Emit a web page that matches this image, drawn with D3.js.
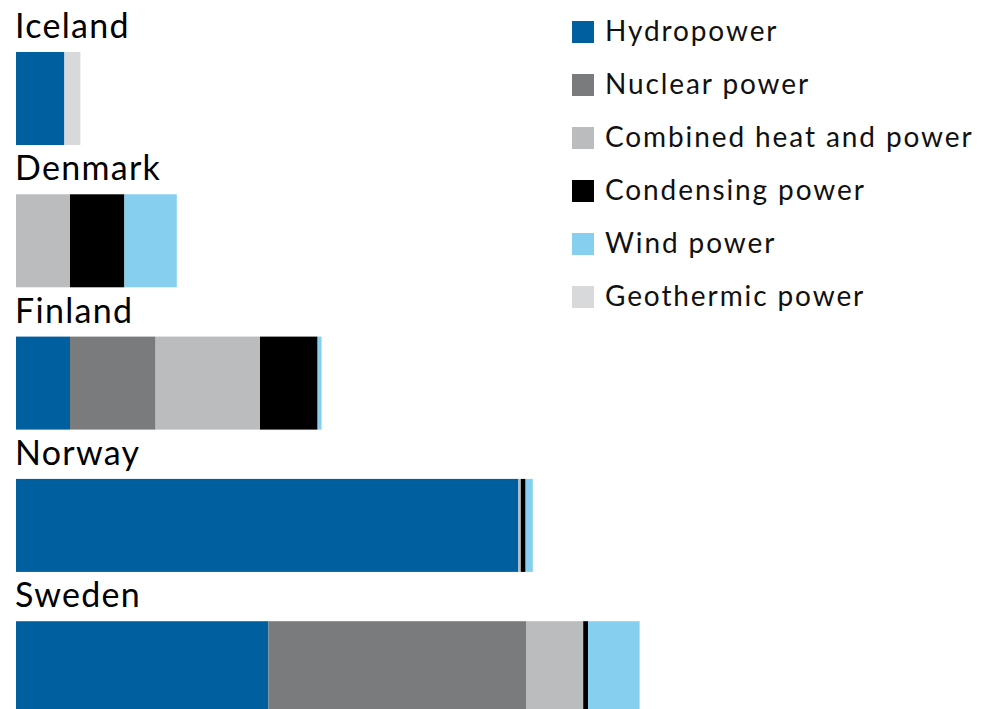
<!DOCTYPE html>
<html>
<head>
<meta charset="UTF-8">
<script src="https://cdn.jsdelivr.net/npm/d3@7"></script>
<style>
body{
    margin:0;
    background-color:#fff;
    font-family:"Lato", "Noto Sans", sans-serif;
}
</style>
</head>
<body>
<script>

// electricity generation by source (approx. TWh)
var countries = ["Iceland","Denmark","Finland","Norway","Sweden"];
var sources = ["Hydropower","Nuclear power","Combined heat and power","Condensing power","Wind power","Geothermic power"];
var colors = ["#005f9e","#7a7b7d","#bbbcbe","#000000","#87cfee","#d8d9db"];

var hydro      = [12.1, 0,    13.5, 125.6, 63.1];
var nuclear    = [0,    0,    21.4, 0,     64.4];
var chp        = [0,    13.5, 26.1, 0.6,   14.3];
var condensing = [0,    13.6, 14.4, 1.2,   1.2];
var wind       = [0,    13.1, 1.0,  1.8,   12.9];
var geothermic = [4.0,  0,    0,    0,     0];

var width = 982, height = 709;

var data = countries.map(function(c,i){
    return {country:c, "Hydropower":hydro[i], "Nuclear power":nuclear[i],
        "Combined heat and power":chp[i], "Condensing power":condensing[i],
        "Wind power":wind[i], "Geothermic power":geothermic[i]};
});

var stack = d3.stack().keys(sources);
var series = stack(data);

var x = d3.scaleLinear().domain([0,240]).range([16,976]);
var y = d3.scaleBand().domain(countries).range([52,714.2]).paddingInner(0.3465).paddingOuter(0);
var color = d3.scaleOrdinal().domain(sources).range(colors);

var svg = d3.select("body").append("svg")
    .attr("width",width)
    .attr("height",height);

var layers = svg.selectAll(".layer")
    .data(series)
    .enter().append("g")
    .attr("class","layer")
    .attr("fill",function(d){ return color(d.key); });

layers.selectAll("rect")
    .data(function(d){ return d; })
    .enter().append("rect")
    .attr("x",function(d){ return x(d[0]); })
    .attr("y",function(d){ return y(d.data.country); })
    .attr("width",function(d){ return x(d[1]) - x(d[0]); })
    .attr("height",y.bandwidth());

svg.selectAll(".country")
    .data(countries)
    .enter().append("text")
    .attr("class","country")
    .attr("x",15)
    .attr("y",function(d){ return y(d) - 14; })
    .attr("font-size",34)
    .attr("letter-spacing",1.3)
    .attr("fill","#000")
    .text(function(d){ return d; });

var legend = svg.selectAll(".legend")
    .data(sources)
    .enter().append("g")
    .attr("class","legend")
    .attr("transform",function(d,i){ return "translate(572," + (21 + i*53) + ")"; });

legend.append("rect")
    .attr("width",22)
    .attr("height",22)
    .attr("fill",function(d){ return color(d); });

legend.append("text")
    .attr("x",33)
    .attr("y",20)
    .attr("font-size",28)
    .attr("letter-spacing",1.9)
    .attr("fill","#111")
    .text(function(d){ return d; });

</script>
</body>
</html>
